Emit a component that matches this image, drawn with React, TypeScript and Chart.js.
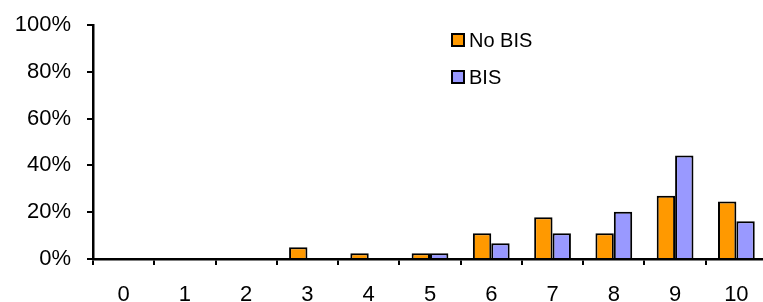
import React, { useEffect, useRef } from "react";
import { Chart, registerables } from "chart.js";

Chart.register(...registerables);

const categories = ["0", "1", "2", "3", "4", "5", "6", "7", "8", "9", "10"];
const noBisValues = [0, 0, 0, 5, 2.5, 2.5, 11, 17.8, 11, 27, 24.6];
const bisValues = [0, 0, 0, 0, 0, 2.5, 6.7, 11, 20.2, 44.2, 16.1];
const seriesLabels = ["No BIS", "BIS"];
const seriesColors = ["#FF9900", "#9999FF"];
const yMax = 100;
const yStep = 20;

const FONT = '"Liberation Sans", Arial, Helvetica, sans-serif';

const insideLegend = {
  id: "insideLegend",
  afterDraw(chart: any, _args: any, opts: any) {
    const ctx = chart.ctx;
    ctx.save();
    chart.data.datasets.forEach((ds: any, i: number) => {
      const bx = opts.x;
      const by = opts.y + i * opts.rowGap;
      ctx.fillStyle = ds.backgroundColor;
      ctx.fillRect(bx, by, opts.box, opts.box);
      ctx.strokeStyle = "#000";
      ctx.lineWidth = 2;
      ctx.strokeRect(bx, by, opts.box, opts.box);
      ctx.fillStyle = "#000";
      ctx.font = `${opts.fontSize}px ${FONT}`;
      ctx.textBaseline = "middle";
      ctx.textAlign = "left";
      ctx.fillText(ds.label, bx + opts.box + 5, by + opts.box / 2 + 1);
    });
    ctx.restore();
  },
};

export default function App() {
  const ref = useRef<HTMLCanvasElement | null>(null);

  useEffect(() => {
    if (!ref.current) return;
    const chart = new Chart(ref.current, {
      type: "bar",
      data: {
        labels: categories,
        datasets: [
          {
            label: seriesLabels[0],
            data: noBisValues,
            backgroundColor: seriesColors[0],
            borderColor: "#000",
            borderWidth: 2,
          },
          {
            label: seriesLabels[1],
            data: bisValues,
            backgroundColor: seriesColors[1],
            borderColor: "#000",
            borderWidth: 2,
          },
        ],
      },
      plugins: [insideLegend],
      options: {
        responsive: false,
        animation: false,
        devicePixelRatio: 1,
        layout: { padding: { top: 25, left: 0, right: 0, bottom: 0 } },
        datasets: {
          bar: { barPercentage: 1, categoryPercentage: 0.6 },
        },
        plugins: {
          legend: { display: false },
          tooltip: { enabled: false },
          insideLegend: { x: 452, y: 34, rowGap: 37, box: 12, fontSize: 20 },
        } as any,
        scales: {
          x: {
            grid: {
              offset: true,
              drawOnChartArea: false,
              drawTicks: true,
              tickLength: 6,
              color: "#000",
              lineWidth: 2,
            },
            border: { display: true, color: "#000", width: 2.5 },
            ticks: {
              color: "#000",
              font: { family: FONT, size: 22 },
              padding: 17,
              maxRotation: 0,
            },
            afterFit: (s: any) => {
              s.height = 43;
              s.paddingLeft = 0;
              s.paddingRight = 0;
            },
          },
          y: {
            min: 0,
            max: yMax,
            grid: {
              drawOnChartArea: false,
              drawTicks: true,
              tickLength: 6,
              color: "#000",
              lineWidth: 2,
            },
            border: { display: true, color: "#000", width: 2.5 },
            ticks: {
              stepSize: yStep,
              color: "#000",
              font: { family: FONT, size: 22 },
              padding: 16,
              callback: (v: any) => `${v}%`,
            },
            afterFit: (s: any) => {
              s.width = 93;
              s.paddingTop = 0;
              s.paddingBottom = 0;
            },
          },
        },
      },
    });
    return () => chart.destroy();
  }, []);

  return (
    <div
      style={{
        position: "absolute",
        left: 0,
        top: 0,
        width: 763,
        height: 302,
        overflow: "hidden",
        background: "#fff",
      }}
    >
      <canvas ref={ref} width={767} height={302} style={{ display: "block" }} />
    </div>
  );
}
